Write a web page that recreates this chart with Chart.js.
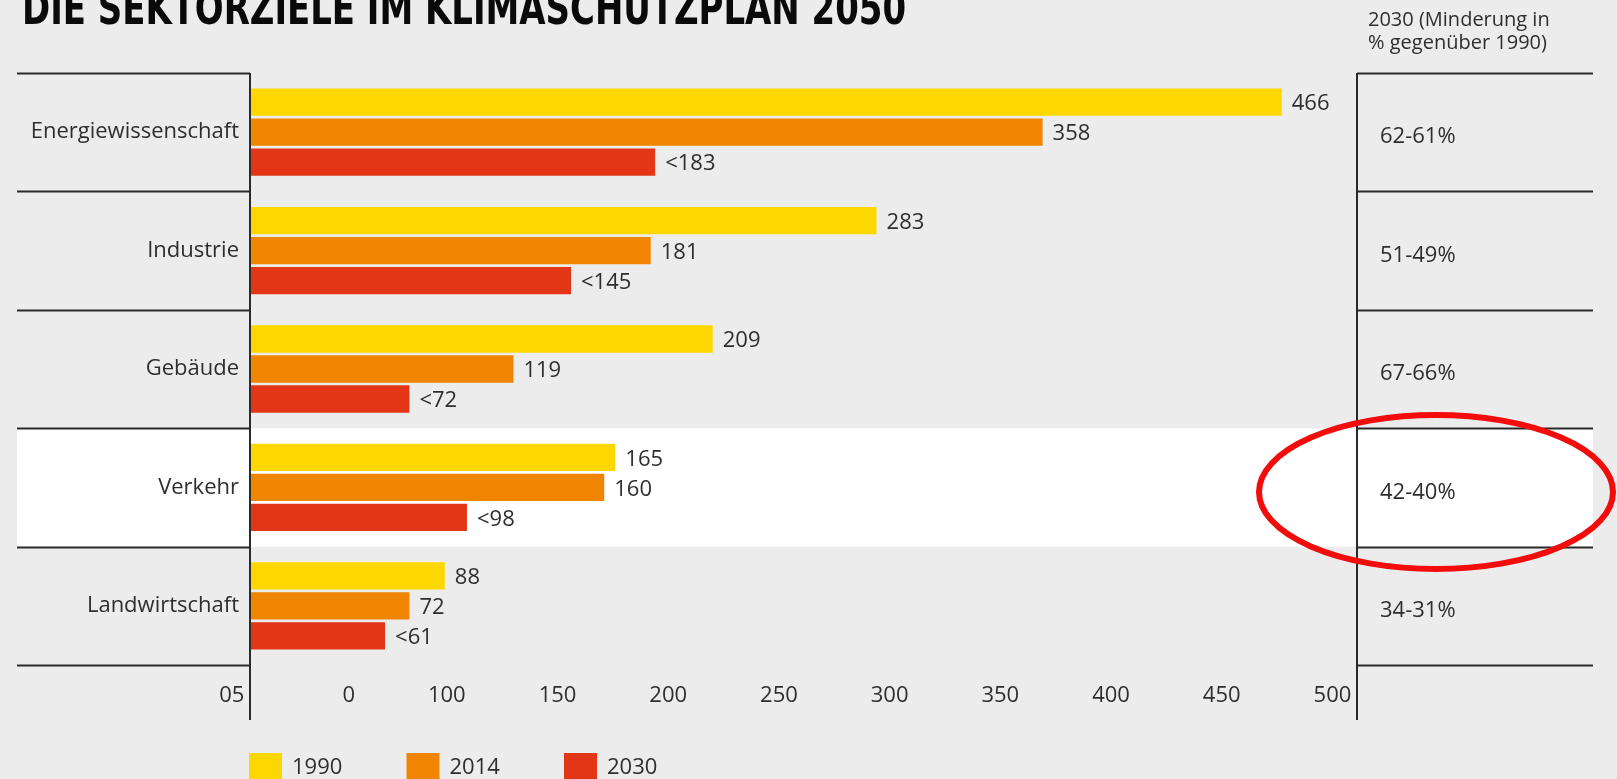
<!DOCTYPE html>
<html lang="de">
<head>
<meta charset="utf-8">
<title>Sektorziele im Klimaschutzplan</title>
<script src="https://cdn.jsdelivr.net/npm/chart.js@4"></script>
<style>
    html, body { margin: 0; padding: 0; background: #ececec; }
    canvas { display: block; }
</style>
</head>
<body>
<canvas id="js-sektorDiagramm" width="1617" height="779"></canvas>
<script>
// Daten (Mio. t CO2-Äquivalente)
const kategorien = ['Energiewissenschaft', 'Industrie', 'Gebäude', 'Verkehr', 'Landwirtschaft'];
const jahre = ['1990', '2014', '2030'];
const werte1990 = [466, 283, 209, 165, 88];
const werte2014 = [358, 181, 119, 160, 72];
const werte2030 = [183, 145, 72, 98, 61];
const labels1990 = ['466', '283', '209', '165', '88'];
const labels2014 = ['358', '181', '119', '160', '72'];
const labels2030 = ['<183', '<145', '<72', '<98', '<61'];
const minderung2030 = ['62-61%', '51-49%', '67-66%', '42-40%', '34-31%'];
const tickLabels = ['05', '0', '100', '150', '200', '250', '300', '350', '400', '450', '500'];
const hervorgehoben = 'Verkehr';

const farben = ['#fdd800', '#ef8500', '#e23616'];
const textFarbe = '#2e2e2e';
const schrift = '"Open Sans", "Noto Sans", sans-serif';

// Hintergrund, weiße Zeile, Linien, Beschriftungen
const rahmenPlugin = {
    id: 'rahmen',
    beforeDraw(chart) {
        const c = chart.ctx;
        const area = chart.chartArea;
        const zeile = (area.bottom - area.top) / kategorien.length;
        c.save();
        c.fillStyle = '#ececec';
        c.fillRect(0, 0, chart.width, chart.height);
        const idx = kategorien.indexOf(hervorgehoben);
        c.fillStyle = '#ffffff';
        c.fillRect(17, area.top + idx * zeile, 1593 - 17, zeile);
        c.restore();
    },
    afterDraw(chart) {
        const c = chart.ctx;
        const area = chart.chartArea;
        const zeile = (area.bottom - area.top) / kategorien.length;
        c.save();

        // Trennlinien links und rechts
        c.strokeStyle = '#2a2a2a';
        c.lineWidth = 2;
        c.beginPath();
        for (let i = 0; i <= kategorien.length; i++) {
            const y = Math.round(area.top + i * zeile) + 0.5;
            c.moveTo(17, y);
            c.lineTo(area.left, y);
            c.moveTo(area.right, y);
            c.lineTo(1593, y);
        }
        c.moveTo(area.left, area.top);
        c.lineTo(area.left, 720);
        c.moveTo(area.right, area.top);
        c.lineTo(area.right, 720);
        c.stroke();

        // Werte an den Balken
        const werteLabels = [labels1990, labels2014, labels2030];
        c.fillStyle = textFarbe;
        c.font = '22px ' + schrift;
        c.textAlign = 'left';
        c.textBaseline = 'middle';
        chart.data.datasets.forEach((ds, d) => {
            chart.getDatasetMeta(d).data.forEach((bar, i) => {
                c.fillText(werteLabels[d][i], bar.x + 10, bar.y + 2);
            });
        });

        // Minderung 2030 rechts
        const yScale = chart.scales.y;
        minderung2030.forEach((txt, i) => {
            c.fillText(txt, 1380, yScale.getPixelForValue(i) + 5);
        });

        // Kopf rechts
        c.font = '20px ' + schrift;
        c.fillText('2030 (Minderung in', 1368, 20);
        c.fillText('% gegenüber 1990)', 1368, 43);

        // Titel (oben angeschnitten)
        c.font = 'bold 46px "DejaVu Sans Condensed", "DejaVu Sans", sans-serif';
        c.fillStyle = '#0a0a0a';
        c.textBaseline = 'alphabetic';
        c.fillText('DIE SEKTORZIELE IM KLIMASCHUTZPLAN 2050', 22, 24, 884);

        // Legende
        c.font = '22px ' + schrift;
        c.textBaseline = 'middle';
        chart.data.datasets.forEach((ds, d) => {
            const x = 249 + d * 157.5;
            c.fillStyle = ds.backgroundColor;
            c.fillRect(x, 753, 33, 30);
            c.fillStyle = textFarbe;
            c.fillText(ds.label, x + 43, 768);
        });

        // rote Markierung
        c.strokeStyle = '#f20c0c';
        c.lineWidth = 6;
        c.beginPath();
        c.ellipse(1436, 492, 177, 77, 0, 0, Math.PI * 2);
        c.stroke();

        c.restore();
    }
};

const ctx = document.getElementById('js-sektorDiagramm').getContext('2d');
const sektorDiagramm = new Chart(ctx, {
    type: 'bar',
    data: {
        labels: kategorien,
        datasets: [
            { label: jahre[0], data: werte1990, backgroundColor: farben[0] },
            { label: jahre[1], data: werte2014, backgroundColor: farben[1] },
            { label: jahre[2], data: werte2030, backgroundColor: farben[2] }
        ]
    },
    options: {
        indexAxis: 'y',
        responsive: false,
        animation: false,
        layout: {
            padding: { left: 0, top: 73, right: 260, bottom: 0 }
        },
        datasets: {
            bar: { categoryPercentage: 0.76, barPercentage: 0.91 }
        },
        plugins: {
            legend: { display: false },
            tooltip: { enabled: false }
        },
        scales: {
            x: {
                type: 'linear',
                min: 0,
                max: 500,
                grid: { display: false, drawTicks: false },
                border: { display: false },
                afterFit: (scale) => { scale.height = 114; },
                ticks: {
                    stepSize: 50,
                    autoSkip: false,
                    maxRotation: 0,
                    align: 'end',
                    padding: 18,
                    color: textFarbe,
                    font: { family: schrift, size: 22 },
                    callback: (v, i) => tickLabels[i] + ' '
                }
            },
            y: {
                grid: { display: false, drawTicks: false },
                border: { display: false },
                afterFit: (scale) => { scale.width = 250; },
                ticks: {
                    padding: 11,
                    color: textFarbe,
                    font: { family: schrift, size: 22 }
                }
            }
        }
    },
    plugins: [rahmenPlugin]
});
</script>
</body>
</html>
